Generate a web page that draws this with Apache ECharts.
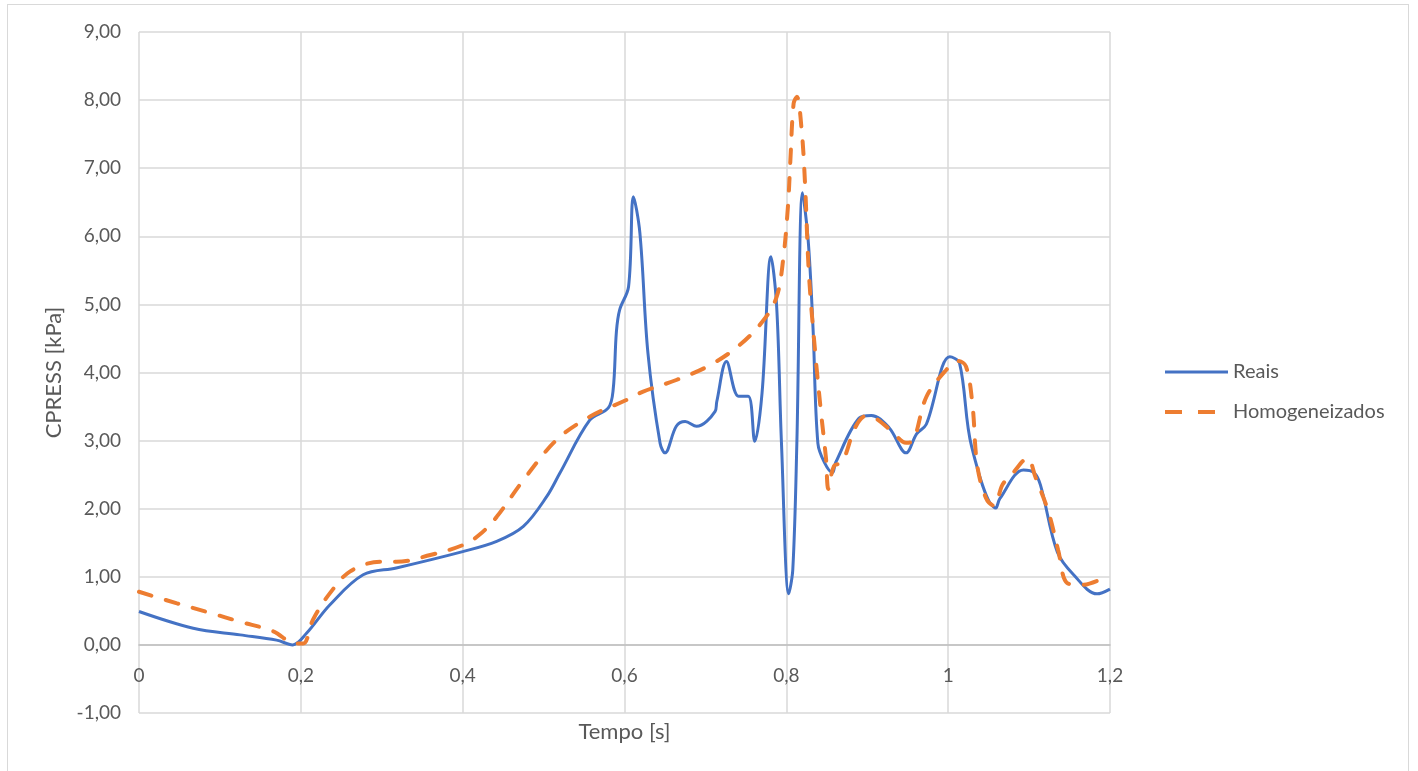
<!DOCTYPE html>
<html>
<head>
<meta charset="utf-8">
<script src="https://cdn.jsdelivr.net/npm/echarts@6/dist/echarts.min.js"></script>
<style>
html,body{margin:0;padding:0;background:#fff;}
#chart{position:absolute;left:0;top:0;width:1418px;height:771px;}
#frame{position:absolute;left:7px;top:4px;width:1400px;height:775px;border:1px solid #d9d9d9;pointer-events:none;}
</style>
</head>
<body>
<div id="chart"></div>
<div id="frame"></div>
<script>
const seriesNames = ['Reais', 'Homogeneizados'];
const xTitle = 'Tempo [s]';
const yTitle = 'CPRESS [kPa]';

const tReais = [0, 0.067, 0.125, 0.17, 0.19, 0.207, 0.236, 0.277, 0.318, 0.40, 0.442, 0.475, 0.504, 0.520, 0.557, 0.58, 0.586, 0.590, 0.594, 0.605, 0.611, 0.619, 0.629, 0.644, 0.650, 0.664, 0.675, 0.689, 0.712, 0.714, 0.726, 0.741, 0.753, 0.761, 0.770, 0.781, 0.788, 0.794, 0.803, 0.808, 0.813, 0.820, 0.827, 0.833, 0.839, 0.847, 0.857, 0.861, 0.890, 0.905, 0.927, 0.948, 0.961, 0.973, 1.002, 1.014, 1.029, 1.059, 1.064, 1.093, 1.106, 1.114, 1.135, 1.155, 1.184, 1.200];
const vReais = [0.49, 0.245, 0.147, 0.07, 0.0, 0.17, 0.59, 1.03, 1.13, 1.37, 1.52, 1.74, 2.18, 2.52, 3.30, 3.48, 3.75, 4.6, 4.92, 5.26, 6.58, 6.05, 4.28, 2.96, 2.82, 3.21, 3.28, 3.21, 3.43, 3.57, 4.16, 3.65, 3.65, 2.99, 3.70, 5.70, 4.98, 2.96, 0.75, 1.11, 2.96, 6.64, 5.94, 4.65, 2.96, 2.68, 2.53, 2.68, 3.33, 3.37, 3.19, 2.82, 3.10, 3.24, 4.23, 4.14, 2.91, 2.01, 2.15, 2.57, 2.53, 2.35, 1.36, 1.03, 0.75, 0.82];

const tHomog = [0, 0.047, 0.088, 0.125, 0.166, 0.193, 0.203, 0.215, 0.236, 0.261, 0.298, 0.318, 0.360, 0.401, 0.421, 0.442, 0.475, 0.516, 0.557, 0.603, 0.623, 0.664, 0.706, 0.743, 0.772, 0.788, 0.796, 0.802, 0.805, 0.809, 0.813, 0.819, 0.823, 0.828, 0.836, 0.843, 0.849, 0.852, 0.859, 0.869, 0.885, 0.898, 0.910, 0.931, 0.948, 0.956, 0.973, 0.997, 1.012, 1.022, 1.030, 1.036, 1.047, 1.057, 1.067, 1.079, 1.098, 1.108, 1.124, 1.136, 1.147, 1.165, 1.190];
const vHomog = [0.78, 0.61, 0.47, 0.34, 0.20, 0.02, 0.02, 0.37, 0.76, 1.08, 1.22, 1.22, 1.32, 1.47, 1.62, 1.88, 2.42, 3.01, 3.35, 3.60, 3.72, 3.89, 4.11, 4.41, 4.77, 5.11, 5.65, 6.44, 7.12, 7.95, 8.05, 7.55, 6.8, 5.43, 4.25, 3.4, 2.74, 2.29, 2.63, 2.68, 3.19, 3.36, 3.33, 3.13, 2.97, 2.99, 3.64, 4.03, 4.17, 4.09, 3.53, 2.63, 2.15, 2.04, 2.35, 2.51, 2.74, 2.46, 1.95, 1.39, 0.91, 0.88, 0.97];

const zip = (a, b) => a.map((t, i) => [t, b[i]]);
const FONT = 'Lato';
const TXT = '#595959';

const chart = echarts.init(document.getElementById('chart'), null, {renderer: 'canvas'});
chart.setOption({
  animation: false,
  backgroundColor: '#fff',
  textStyle: {fontFamily: FONT},
  grid: {left: 139, right: 308, top: 32, bottom: 58, containLabel: false, outerBoundsMode: 'none'},
  legend: {
    orient: 'vertical',
    left: 1160, top: 357,
    itemWidth: 63, itemHeight: 14, itemGap: 20,
    textStyle: {fontFamily: FONT, fontSize: 20, color: TXT},
    data: [
      {name: seriesNames[0], icon: 'path://M0,6 L63,6 L63,9 L0,9 Z', itemStyle: {color: '#4472C4'}},
      {name: seriesNames[1], icon: 'path://M0,5.5 L17,5.5 L17,9.5 L0,9.5 Z M33,5.5 L50,5.5 L50,9.5 L33,9.5 Z M62.95,7.45 L63,7.45 L63,7.5 L62.95,7.5 Z', itemStyle: {color: '#ED7D31'}}
    ]
  },
  xAxis: {
    type: 'value', min: 0, max: 1.2, interval: 0.2,
    name: xTitle, nameLocation: 'middle', nameGap: 8,
    nameTextStyle: {fontFamily: FONT, fontSize: 22, color: TXT},
    axisLine: {onZero: true, lineStyle: {color: '#bfbfbf', width: 1.5}},
    axisTick: {show: false},
    axisLabel: {fontFamily: FONT, fontSize: 19, color: TXT, margin: -47,
      formatter: v => String(Math.round(v * 10) / 10).replace('.', ',')},
    splitLine: {show: true, lineStyle: {color: '#d9d9d9', width: 1.5}}
  },
  yAxis: {
    type: 'value', min: -1, max: 9, interval: 1,
    name: yTitle, nameLocation: 'middle', nameGap: 74,
    nameTextStyle: {fontFamily: FONT, fontSize: 22, color: TXT},
    axisLine: {show: false},
    axisTick: {show: false},
    axisLabel: {fontFamily: FONT, fontSize: 19, color: TXT, margin: 18,
      formatter: v => v.toFixed(2).replace('.', ',')},
    splitLine: {show: true, lineStyle: {color: '#d9d9d9', width: 1.5}}
  },
  series: [
    {
      name: seriesNames[0], type: 'line', data: zip(tReais, vReais),
      smooth: 0.35, showSymbol: false, symbol: 'none',
      lineStyle: {color: '#4472C4', width: 3}, itemStyle: {color: '#4472C4'}, z: 2
    },
    {
      name: seriesNames[1], type: 'line', data: zip(tHomog, vHomog),
      smooth: 0.35, showSymbol: false, symbol: 'none',
      lineStyle: {color: '#ED7D31', width: 4, type: [13, 15], cap: 'round'}, itemStyle: {color: '#ED7D31'}, z: 3
    }
  ]
});
</script>
</body>
</html>
